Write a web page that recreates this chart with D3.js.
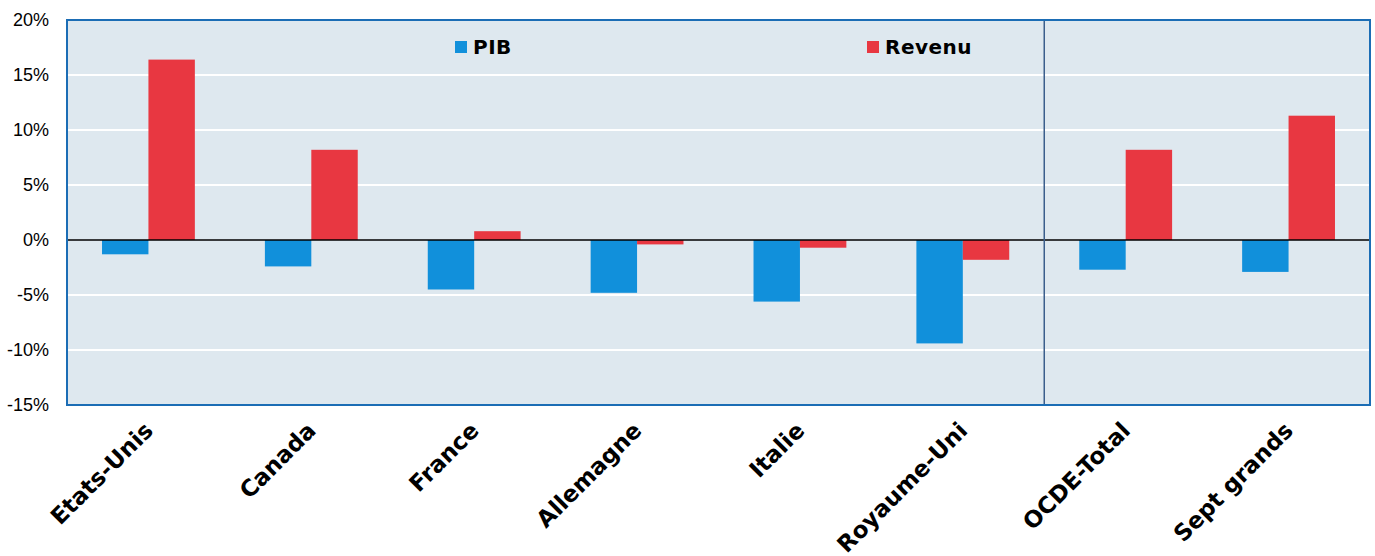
<!DOCTYPE html>
<html><head><meta charset="utf-8">
<script src="https://cdn.jsdelivr.net/npm/d3@7"></script>
<style>body{margin:0;background:#fff;} svg{display:block;}</style>
</head><body>
<svg id="c" width="1375" height="556"></svg>
<script>
const categories = ["Etats-Unis","Canada","France","Allemagne","Italie","Royaume-Uni","OCDE-Total","Sept grands"];
const pib = [-1.3,-2.4,-4.5,-4.8,-5.6,-9.4,-2.7,-2.9];
const revenu = [16.4,8.2,0.8,-0.4,-0.7,-1.8,8.2,11.3];
const seriesNames = ["PIB","Revenu"];
const yTicks = [20,15,10,5,0,-5,-10,-15];

const svg = d3.select("#c");
const L=67,R=1370,T=20,B=405;
const x = d3.scaleBand().domain(categories).range([L,R]).paddingInner(0.43).paddingOuter(0.215);
const y = d3.scaleLinear().domain([-15,20]).range([B,T]);
const colors = ["#1190DB","#E83741"];

svg.append("rect").attr("x",L).attr("y",T).attr("width",R-L).attr("height",B-T).attr("fill","#DEE8EF");
svg.append("g").selectAll("line").data(yTicks.filter(d=>d!==0&&d!==20&&d!==-15)).join("line")
  .attr("x1",L).attr("x2",R).attr("y1",d=>y(d)).attr("y2",d=>y(d)).attr("stroke","#fff").attr("stroke-width",2);

const bw = x.bandwidth()/2;
const data = [pib,revenu];
data.forEach((vals,si)=>{
  svg.append("g").selectAll("rect").data(vals).join("rect")
    .attr("x",(d,i)=>x(categories[i])+si*bw)
    .attr("width",bw)
    .attr("y",d=>y(Math.max(0,d)))
    .attr("height",d=>Math.abs(y(d)-y(0)))
    .attr("fill",colors[si]);
});

svg.append("line").attr("x1",L).attr("x2",R).attr("y1",y(0)).attr("y2",y(0)).attr("stroke","#000").attr("stroke-width",1.5);
const divX = (x("Royaume-Uni")+x.bandwidth()+x("OCDE-Total"))/2;
svg.append("line").attr("x1",divX).attr("x2",divX).attr("y1",T).attr("y2",B).attr("stroke","#3B5E8C").attr("stroke-width",1.5);
svg.append("rect").attr("x",L).attr("y",T).attr("width",R-L).attr("height",B-T).attr("fill","none").attr("stroke","#1B6DB5").attr("stroke-width",2);

svg.append("g").selectAll("text").data(yTicks).join("text")
  .attr("x",49).attr("y",d=>y(d)+6).attr("text-anchor","end")
  .attr("font-family","Liberation Sans, Arial, sans-serif").attr("font-size",18).attr("fill","#000")
  .text(d=>d+"%");

svg.append("g").selectAll("text").data(categories).join("text")
  .attr("transform",d=>`translate(${x(d)+x.bandwidth()/2+6},${432}) rotate(-45)`)
  .attr("text-anchor","end")
  .attr("font-family","DejaVu Sans, sans-serif").attr("font-weight","bold").attr("font-size",23).attr("fill","#000")
  .text(d=>d);

const legX=[455,867];
seriesNames.forEach((n,i)=>{
  svg.append("rect").attr("x",legX[i]).attr("y",41).attr("width",12).attr("height",12).attr("fill",colors[i]);
  svg.append("text").attr("x",legX[i]+18).attr("y",53.5).attr("font-family","DejaVu Sans, sans-serif")
    .attr("font-weight","bold").attr("font-size",20).attr("letter-spacing",0.5).attr("fill","#000").text(n);
});
</script>
</body></html>
